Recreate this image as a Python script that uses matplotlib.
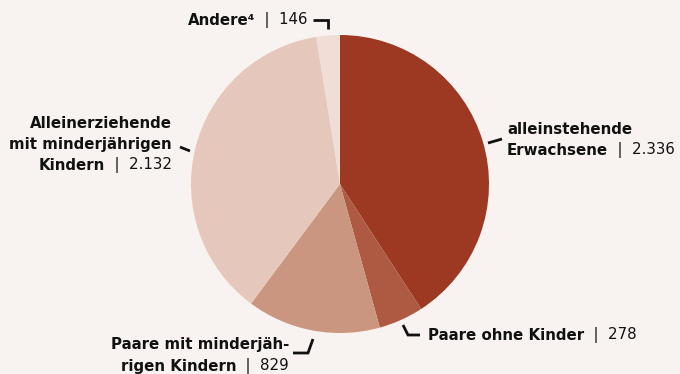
import matplotlib
matplotlib.use("Agg")
import matplotlib.pyplot as plt

# Household types and counts
labels = ["alleinstehende Erwachsene", "Paare ohne Kinder",
          "Paare mit minderjährigen Kindern",
          "Alleinerziehende mit minderjährigen Kindern", "Andere⁴"]
counts = [2336, 278, 829, 2132, 146]
value_text = ["2.336", "278", "829", "2.132", "146"]
colors = ["#9d3823", "#ae5942", "#ca967f", "#e5c7bb", "#f0ddd5"]

BG = "#f8f3f0"
W, H = 680, 374

plt.rcParams["font.family"] = ["DejaVu Sans"]

fig = plt.figure(figsize=(W / 100, H / 100), dpi=100, facecolor=BG)
ax = fig.add_axes([0, 0, 1, 1])
ax.set_facecolor(BG)

ax.pie(counts, colors=colors, startangle=90, counterclock=False,
       center=(340, H - 184), radius=149, frame=True,
       wedgeprops=dict(linewidth=0))
ax.set_xlim(0, W)
ax.set_ylim(0, H)
ax.axis("off")

renderer = fig.canvas.get_renderer()
FS = 10.8


def label(x, y, lines, ha="left"):
    """Each line is a list of (text, weight) parts; y is pixel from top."""
    for i, parts in enumerate(lines):
        yy = H - (y + i * 21)
        items = []
        total = 0
        for txt, weight in parts:
            t = ax.text(0, yy, txt, fontsize=FS, fontweight=weight,
                        va="center", ha="left", color="#111111")
            w = t.get_window_extent(renderer).width
            items.append((t, w))
            total += w
        x0 = x - total if ha == "right" else x
        for t, w in items:
            t.set_x(x0)
            x0 += w


def leader(xs, ys):
    ax.plot(xs, [H - v for v in ys], color="#111111", lw=2,
            solid_capstyle="butt", solid_joinstyle="miter")


label(188, 20, [[("Andere⁴", "bold"), ("  |  " + value_text[4], "normal")]])
leader([313, 328, 328], [20, 20, 29])

label(172, 123, [[("Alleinerziehende", "bold")],
                 [("mit minderjährigen", "bold")],
                 [("Kindern", "bold"), ("  |  " + value_text[3], "normal")]],
      ha="right")
leader([180, 190], [147, 151])

label(507, 129, [[("alleinstehende", "bold")],
                 [("Erwachsene", "bold"), ("  |  " + value_text[0], "normal")]])
leader([488, 502], [143, 139])

label(428, 335, [[("Paare ohne Kinder", "bold"), ("  |  " + value_text[1], "normal")]])
leader([403, 408, 420], [325, 335, 335])

label(289, 345, [[("Paare mit minderjäh-", "bold")]], ha="right")
label(289, 366, [[("rigen Kindern", "bold"), ("  |  " + value_text[2], "normal")]],
      ha="right")
leader([293, 308, 313], [353, 353, 339])

fig.savefig("out.png", dpi=100, facecolor=BG)
